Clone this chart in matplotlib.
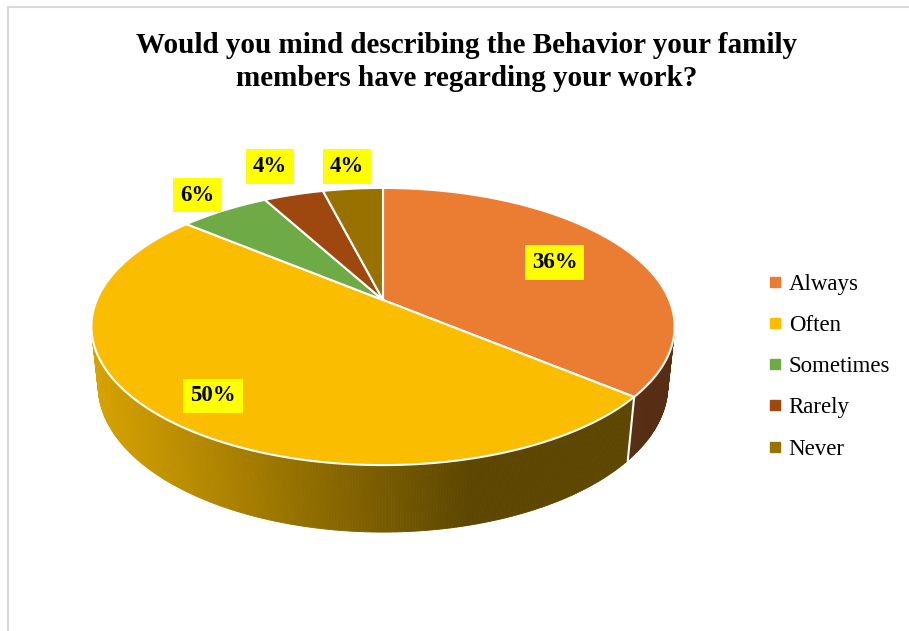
import numpy as np
import matplotlib.pyplot as plt
from matplotlib.collections import PolyCollection
from matplotlib.patches import Polygon
from matplotlib.lines import Line2D
from matplotlib.colors import to_rgb

title = "Would you mind describing the Behavior your family\nmembers have regarding your work?"
labels = ['Always', 'Often', 'Sometimes', 'Rarely', 'Never']
values = [36, 50, 6, 4, 4]
colors = ['#EB7D33', '#FABD00', '#6EAA46', '#9E470F', '#987100']

# where each percentage box sits, as a fraction of the radius
label_r = [0.7, 0.82, 1.2, 1.33, 1.25]

# 3d pie camera
cx, cy = 383, 300
Fx, Fy, D = 1328, 1346, 4.64
phi = np.radians(27.4)
depth_h = 0.231


def project(X, Y, Z):
    s, c = np.sin(phi), np.cos(phi)
    dist = Y * c - Z * s + D
    return cx + Fx * X / dist, cy - Fy * (Y * s + Z * c) / dist


def rim(t, r=1.0, z=0.0):
    t = np.radians(t)
    return project(r * np.sin(t), r * np.cos(t), z)


def shade(x):
    return np.interp(x, [92, 470], [0.86, 0.37])


fig = plt.figure(figsize=(9.09, 6.31), dpi=100)
ax = fig.add_axes([0, 0, 1, 1])
ax.set_xlim(0, 909)
ax.set_ylim(631, 0)
ax.axis('off')

# chart frame
ax.add_line(Line2D([8, 8], [7, 631], color='#D9D9D9', lw=1.5))
ax.add_line(Line2D([8, 909], [7, 7], color='#D9D9D9', lw=1.5))

frac = np.array(values) / sum(values)
starts = np.concatenate([[0], np.cumsum(frac)[:-1]]) * 360
ends = np.cumsum(frac) * 360

# visible part of the outer wall
t0 = np.degrees(np.arccos(-1 / (D * np.cos(phi))))
t1 = 360 - t0

quads, qcols = [], []
for a, b, col in zip(starts, ends, colors):
    lo, hi = max(a, t0), min(b, t1)
    if lo >= hi:
        continue
    ts = np.linspace(lo, hi, int((hi - lo) / 0.5) + 2)
    xt, yt = rim(ts)
    xb, yb = rim(ts, z=-depth_h)
    base = np.array(to_rgb(col))
    for i in range(len(ts) - 1):
        quads.append([(xt[i], yt[i]), (xt[i + 1], yt[i + 1]),
                      (xb[i + 1], yb[i + 1]), (xb[i], yb[i])])
        c = base * shade((xt[i] + xt[i + 1]) / 2)
        qcols.append(c)
ax.add_collection(PolyCollection(quads, facecolors=qcols, edgecolors=qcols,
                                 linewidths=0.6, zorder=1))

# white seams down the wall
for a in starts:
    if t0 < a < t1:
        xt, yt = rim(a)
        xb, yb = rim(a, z=-depth_h)
        ax.plot([xt, xb], [yt, yb], color='white', lw=1.5, zorder=1.5)

# top faces
for a, b, col in zip(starts, ends, colors):
    ts = np.linspace(a, b, int((b - a) / 0.5) + 2)
    xs, ys = rim(ts)
    pts = [(cx, cy)] + list(zip(xs, ys))
    ax.add_patch(Polygon(pts, closed=True, facecolor=col, edgecolor='white',
                         lw=1.5, joinstyle='round', zorder=2))

# percentage boxes
for a, b, v, r in zip(starts, ends, values, label_r):
    x, y = rim((a + b) / 2, r=r)
    ax.text(x, y, f"{v}%", ha='center', va='center', fontsize=16.5,
            fontweight='bold', family='Liberation Serif', zorder=5,
            bbox=dict(boxstyle='square,pad=0.3', facecolor='#FFFF00',
                      edgecolor='none'))

ax.text(467, 62, title, ha='center', va='center', fontsize=21,
        fontweight='bold', family='Liberation Serif', linespacing=1.3)

handles = [Line2D([], [], marker='s', ls='', color=c, markersize=7)
           for c in colors]
ax.legend(handles, labels, loc='center left', bbox_to_anchor=(0.845, 0.419),
          frameon=False, prop={'family': 'Liberation Serif', 'size': 16.5},
          labelspacing=0.88, handlelength=0.6, handletextpad=0.3,
          borderpad=0, borderaxespad=0)

fig.savefig('out.png', dpi=100)
